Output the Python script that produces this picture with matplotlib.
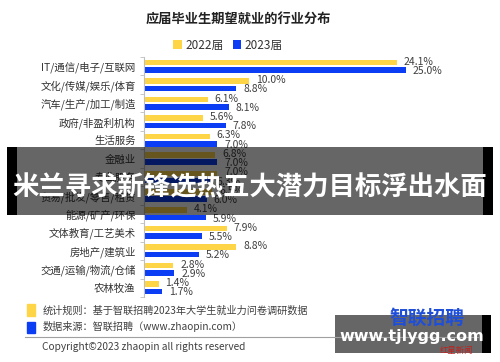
import numpy as np
import matplotlib
matplotlib.use('Agg')
import matplotlib.pyplot as plt
from matplotlib.patches import Rectangle

plt.rcParams['font.family'] = ['Noto Sans CJK SC', 'DejaVu Sans']

# 数据
categories = ['IT/通信/电子/互联网', '文化/传媒/娱乐/体育', '汽车/生产/加工/制造',
              '政府/非盈利机构', '生活服务', '金融业', '专业服务',
              '贸易/批发/零售/租赁', '能源/矿产/环保', '文体教育/工艺美术',
              '房地产/建筑业', '交通/运输/物流/仓储', '农林牧渔']
y2022 = [24.1, 10.0, 6.1, 5.6, 6.3, 6.8, 7.0, 6.5, 4.1, 7.9, 8.8, 2.8, 1.4]
y2023 = [25.0, 8.8, 8.1, 7.8, 7.0, 7.0, 6.3, 6.0, 5.9, 5.5, 5.2, 2.9, 1.7]
series_names = ['2022届', '2023届']

W, H = 500, 362
def fx(x): return x / W
def fy(y): return 1 - y / H

fig = plt.figure(figsize=(5, 3.62), dpi=100)
fig.patch.set_facecolor('white')
ax = fig.add_axes([fx(144), fy(297), (490 - 144) / W, (297 - 57) / H])

yellow = '#ffd548'
blue = '#0b3df5'
pos = np.arange(len(categories))
b1 = ax.barh(pos - 0.2, y2022, height=0.3, color=yellow, label=series_names[0])
b2 = ax.barh(pos + 0.2, y2023, height=0.3, color=blue, label=series_names[1])

for i in range(len(categories)):
    ax.text(y2022[i] + 0.65, pos[i] - 0.25, '%.1f%%' % y2022[i], fontsize=7.5,
            color='#404040', va='center', ha='left')
    ax.text(y2023[i] + 0.65, pos[i] + 0.25, '%.1f%%' % y2023[i], fontsize=7.5,
            color='#404040', va='center', ha='left')

ax.set_xlim(0, 33)
ax.set_ylim(len(categories) - 0.5, -0.5)
ax.set_yticks(pos)
ax.set_yticklabels(categories, fontsize=7.5, color='#333333')
ax.set_yticks(np.arange(len(categories) + 1) - 0.5, minor=True)
ax.tick_params(axis='y', which='major', length=0, pad=6)
ax.tick_params(axis='y', which='minor', length=3, color='#bfbfbf')
ax.set_xticks([])
for s in ['top', 'right', 'bottom']:
    ax.spines[s].set_visible(False)
ax.spines['left'].set_color('#bfbfbf')

# 标题和图例
fig.text(fx(238), fy(19), '应届毕业生期望就业的行业分布', fontsize=9.5, fontweight='bold',
         ha='center', va='center', color='#222222')
fig.legend(handles=[b1, b2], loc='center', bbox_to_anchor=(fx(228), fy(45)), ncol=2,
           frameon=False, fontsize=8.5, handlelength=0.7, handleheight=0.7,
           columnspacing=0.8, handletextpad=0.3, labelcolor='#333333')

# 底部说明
fig.add_artist(Rectangle((fx(27), fy(316)), 8 / W, 12 / H, color=yellow, transform=fig.transFigure))
fig.add_artist(Rectangle((fx(27), fy(333)), 8 / W, 11 / H, color=blue, transform=fig.transFigure))
fig.text(fx(43), fy(311), '统计规则：基于智联招聘2023年大学生就业力问卷调研数据', fontsize=7.3,
         color='#404040', va='center')
fig.text(fx(43), fy(326), '数据来源：智联招聘（www.zhaopin.com）', fontsize=7.3,
         color='#404040', va='center')
fig.add_artist(plt.Line2D([fx(25), fx(478)], [fy(337), fy(337)], color='#a0a0a0', lw=0.8))
fig.text(fx(42), fy(347), 'Copyright©2023 zhaopin all rights reserved', fontsize=7.3,
         color='#404040', va='center')

# 水印
fig.text(fx(427), fy(318), '智联招聘', fontsize=13.5, fontweight='bold', color='#1f4fd8',
         ha='center', va='center')
fig.text(fx(456), fy(350), '红星新闻', fontsize=6, color='#c0201e', ha='center', va='center')
fig.add_artist(Rectangle((fx(335), fy(353)), (482 - 335) / W, 38 / H, color='black',
                         alpha=0.6, transform=fig.transFigure, lw=0))
fig.add_artist(Rectangle((fx(482), fy(353)), 9 / W, 38 / H, color='black',
                         transform=fig.transFigure, lw=0))
fig.text(fx(412), fy(337), 'www.tjlygg.com', fontsize=11.5, fontweight='bold', color='white',
         ha='center', va='center', family='DejaVu Sans')

# 横幅
fig.add_artist(Rectangle((fx(17), fy(215)), (483 - 17) / W, 68 / H, color='black',
                         alpha=0.6, transform=fig.transFigure, lw=0))
fig.add_artist(Rectangle((fx(7), fy(215)), 10 / W, 68 / H, color='black',
                         transform=fig.transFigure, lw=0))
fig.add_artist(Rectangle((fx(483), fy(215)), 10 / W, 68 / H, color='black',
                         transform=fig.transFigure, lw=0))
fig.text(fx(250), fy(188), '米兰寻求新锋选热五大潜力目标浮出水面', fontsize=19,
         fontweight='bold', color='white', ha='center', va='center')

fig.savefig('out.png', dpi=100)
